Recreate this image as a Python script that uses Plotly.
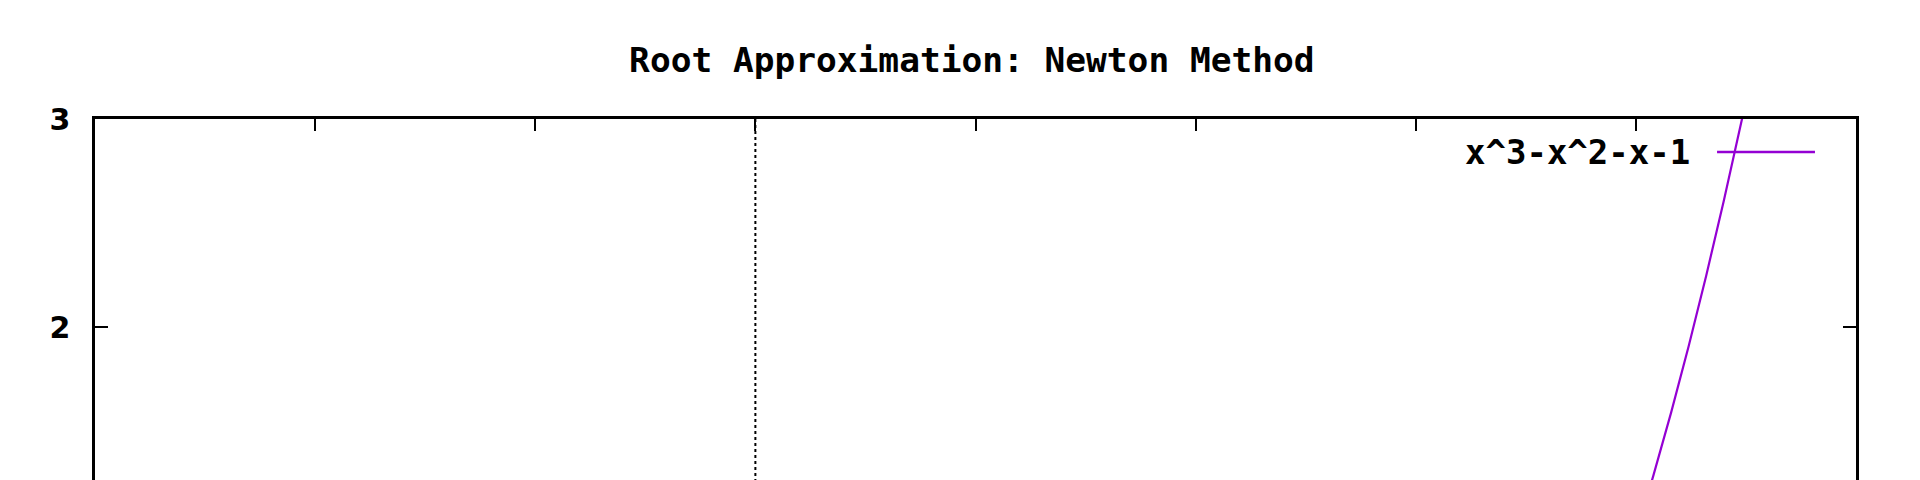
import plotly.graph_objects as go

# Curve samples (x, y of x^3-x^2-x-1 near its steep part)
curve_x = [1.96, 2.00, 2.04, 2.08, 2.12, 2.16, 2.20, 2.24, 2.28]
curve_y = [0.73, 1.00, 1.29, 1.59, 1.91, 2.25, 2.61, 2.98, 3.37]
series_name = "x^3-x^2-x-1"
title_text = "Root Approximation: Newton Method"
x_ticks = [-1.5, -1.0, -0.5, 0.0, 0.5, 1.0, 1.5, 2.0, 2.5]
y_ticks = [2, 3]
y_tick_labels = ["2", "3"]

PURPLE = "#9400D3"
MONO = "DejaVu Sans Mono"

fig = go.Figure()
fig.add_trace(go.Scatter(x=curve_x, y=curve_y, mode="lines",
                         line=dict(color=PURPLE, width=2.2),
                         name=series_name, showlegend=False))

fig.update_layout(
    width=1920, height=480,
    margin=dict(l=87, r=72, t=111, b=0),
    paper_bgcolor="white", plot_bgcolor="white",
    title=dict(text=title_text, x=0.502, xanchor="center", y=1 - 52/480, yanchor="middle",
               font=dict(family=MONO, size=34.5, color="black", weight="bold")),
    xaxis=dict(range=[-1.5, 2.5], side="top", tickvals=x_ticks, showticklabels=False,
               ticks="inside", ticklen=12, tickwidth=2, tickcolor="black",
               showline=True, linecolor="black", linewidth=2.5, mirror=False,
               showgrid=False, zeroline=False),
    yaxis=dict(range=[1.228, 3], tickvals=y_ticks, ticktext=y_tick_labels,
               ticks="inside", ticklen=13, tickwidth=2, tickcolor="black",
               showline=True, linecolor="black", linewidth=2.5, mirror="ticks",
               showgrid=False, zeroline=False, ticklabelstandoff=16,
               tickfont=dict(family="DejaVu Sans", size=30, color="black", weight="bold")),
    showlegend=False,
)

# x = 0 axis as dotted line
fig.add_shape(type="line", xref="x", yref="paper", x0=0, x1=0, y0=0, y1=1,
              line=dict(color="black", width=2, dash="dot"))

# gnuplot-style key: text then line sample
fig.add_annotation(xref="paper", yref="paper", x=0.9069, y=0.9106, xanchor="right", yanchor="middle",
                   text=series_name, showarrow=False,
                   font=dict(family=MONO, size=34, color="black", weight="bold"))
fig.add_shape(type="line", xref="paper", yref="paper", x0=0.9211, x1=0.9767, y0=0.9106, y1=0.9106,
              line=dict(color=PURPLE, width=2.5))

fig.write_html("out.html")
